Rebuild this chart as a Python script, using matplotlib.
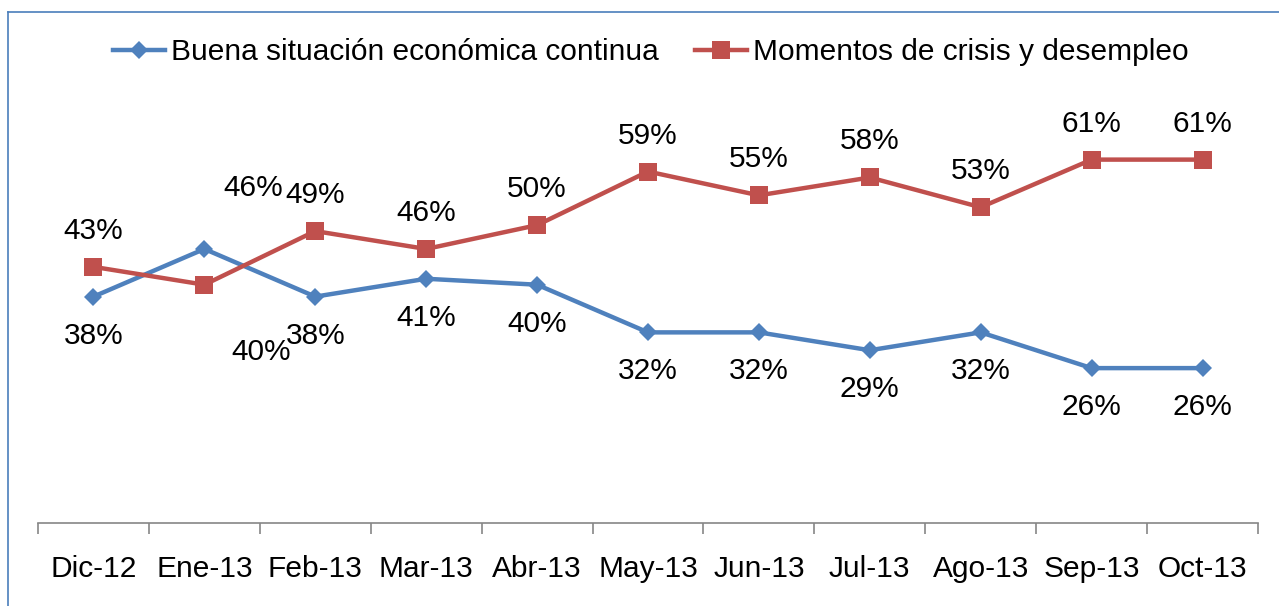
import matplotlib.pyplot as plt
from matplotlib.lines import Line2D

months = ['Dic-12', 'Ene-13', 'Feb-13', 'Mar-13', 'Abr-13', 'May-13',
          'Jun-13', 'Jul-13', 'Ago-13', 'Sep-13', 'Oct-13']
buena = [38, 46, 38, 41, 40, 32, 32, 29, 32, 26, 26]
crisis = [43, 40, 49, 46, 50, 59, 55, 58, 53, 61, 61]

blue = '#4F81BD'
red = '#C0504D'

plt.rcParams['font.family'] = ['Liberation Sans', 'DejaVu Sans']
fs = 21.5

fig = plt.figure(figsize=(12.79, 6.06), dpi=100)
ax = fig.add_axes([38/1279, 1-523/606, (1258-38)/1279, (523-106)/606])

x = list(range(len(months)))
ax.plot(x, buena, color=blue, lw=3.2, marker='D', ms=9, mew=0,
        label='Buena situación económica continua')
ax.plot(x, crisis, color=red, lw=3.2, marker='s', ms=13.5, mew=0,
        label='Momentos de crisis y desempleo')

# data labels: blue below, red above (Ene-13 moved by hand as in the original)
for i in x:
    dx_b, dy_b = 0, -39
    dx_c, dy_c = 0, 36
    if i == 1:
        dx_b, dy_b = 49, 61
        dx_c, dy_c = 57, -67
    ax.annotate('%d%%' % buena[i], (i, buena[i]), xytext=(dx_b, dy_b),
                textcoords='offset pixels', ha='center', va='center', fontsize=fs)
    ax.annotate('%d%%' % crisis[i], (i, crisis[i]), xytext=(dx_c, dy_c),
                textcoords='offset pixels', ha='center', va='center', fontsize=fs)

ax.set_xlim(-0.5, len(months) - 0.5)
ax.set_ylim(0, 70)
ax.set_yticks([])
ax.set_xticks(x)
ax.set_xticklabels(months, fontsize=fs)
ax.set_xticks([i - 0.5 for i in range(len(months) + 1)], minor=True)
ax.tick_params(axis='x', which='major', length=0, pad=23)
ax.tick_params(axis='x', which='minor', length=8, color='#868686', width=1.2)
for s in ['top', 'right', 'left']:
    ax.spines[s].set_visible(False)
ax.spines['bottom'].set_color('#868686')
ax.spines['bottom'].set_linewidth(1.2)

fig.legend(loc='center', bbox_to_anchor=(651/1279, 1-52/606), ncol=2,
           frameon=False, fontsize=fs, handlelength=1.75, handletextpad=0.2,
           columnspacing=1.2, markerscale=1.0)

# chart frame (cropped on the right and bottom)
fig.add_artist(Line2D([8/1279, 1], [1-12/606, 1-12/606], color='#4A7EBB', lw=1.2))
fig.add_artist(Line2D([8/1279, 8/1279], [0, 1-12/606], color='#4A7EBB', lw=1.2))

fig.savefig('out.png', dpi=100)
